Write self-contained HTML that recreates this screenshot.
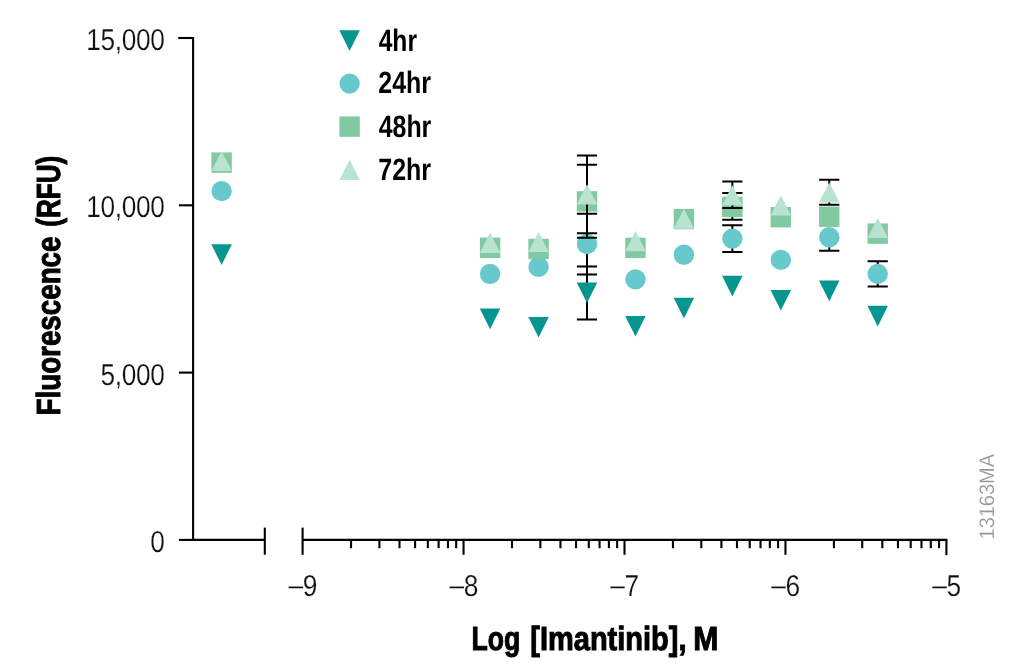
<!DOCTYPE html>
<html lang="en"><head><meta charset="utf-8"><title>Fluorescence vs Log [Imantinib]</title>
<style>html,body{margin:0;padding:0;background:#fff;overflow:hidden;}svg{display:block;}text{font-family:"Liberation Sans",sans-serif;text-rendering:geometricPrecision;white-space:pre;}.tk{font-size:30.2px;letter-spacing:-0.4px;fill:#111;stroke:#fff;stroke-width:0.2px;}.ttl{font-size:33.4px;font-weight:bold;fill:#000;stroke:#000;stroke-width:1px;stroke-linejoin:miter;stroke-miterlimit:3;}.lg{font-size:30.9px;font-weight:bold;fill:#000;}.id{font-size:21px;fill:#999;stroke:#fff;stroke-width:0.15px;}</style></head><body>
<svg width="1016" height="668" viewBox="0 0 1016 668">
<rect width="1016" height="668" fill="#fff"/>
<g stroke="#000" stroke-width="2.1" fill="none" stroke-linecap="butt">
<path d="M193.1 36.95V540.95"/>
<path d="M178.9 539.90H193.1"/>
<path d="M178.9 372.60H193.1"/>
<path d="M178.9 205.30H193.1"/>
<path d="M178.2 38.00H193.1"/>
<path d="M193.1 539.9H264.8"/>
<path d="M264.8 527.6V554.8"/>
<path d="M302.6 539.9H947.45"/>
<path d="M302.6 527.6V554.8"/>
<path d="M351.05 539.9V548.2"/>
<path d="M379.39 539.9V548.2"/>
<path d="M399.50 539.9V548.2"/>
<path d="M415.10 539.9V548.2"/>
<path d="M427.84 539.9V548.2"/>
<path d="M438.62 539.9V548.2"/>
<path d="M447.95 539.9V548.2"/>
<path d="M456.19 539.9V548.2"/>
<path d="M463.55 539.9V554.8"/>
<path d="M512.00 539.9V548.2"/>
<path d="M540.34 539.9V548.2"/>
<path d="M560.45 539.9V548.2"/>
<path d="M576.05 539.9V548.2"/>
<path d="M588.79 539.9V548.2"/>
<path d="M599.57 539.9V548.2"/>
<path d="M608.90 539.9V548.2"/>
<path d="M617.14 539.9V548.2"/>
<path d="M624.50 539.9V554.8"/>
<path d="M672.95 539.9V548.2"/>
<path d="M701.29 539.9V548.2"/>
<path d="M721.40 539.9V548.2"/>
<path d="M737.00 539.9V548.2"/>
<path d="M749.74 539.9V548.2"/>
<path d="M760.52 539.9V548.2"/>
<path d="M769.85 539.9V548.2"/>
<path d="M778.09 539.9V548.2"/>
<path d="M785.45 539.9V554.8"/>
<path d="M833.90 539.9V548.2"/>
<path d="M862.24 539.9V548.2"/>
<path d="M882.35 539.9V548.2"/>
<path d="M897.95 539.9V548.2"/>
<path d="M910.69 539.9V548.2"/>
<path d="M921.47 539.9V548.2"/>
<path d="M930.80 539.9V548.2"/>
<path d="M939.04 539.9V548.2"/>
<path d="M946.40 539.9V555.2"/>
</g>
<text class="tk" text-anchor="end" transform="translate(164.5 552.20) scale(0.87 1)">0</text>
<text class="tk" text-anchor="end" transform="translate(164.5 384.90) scale(0.87 1)">5,000</text>
<text class="tk" text-anchor="end" transform="translate(164.5 217.10) scale(0.87 1)">10,000</text>
<text class="tk" text-anchor="end" transform="translate(164.5 49.80) scale(0.87 1)">15,000</text>
<text class="tk" text-anchor="middle" transform="translate(302.70 595.7) scale(0.87 1)"><tspan dy="-1.1">–</tspan><tspan dy="1.1">9</tspan></text>
<text class="tk" text-anchor="middle" transform="translate(463.65 595.7) scale(0.87 1)"><tspan dy="-1.1">–</tspan><tspan dy="1.1">8</tspan></text>
<text class="tk" text-anchor="middle" transform="translate(624.60 595.7) scale(0.87 1)"><tspan dy="-1.1">–</tspan><tspan dy="1.1">7</tspan></text>
<text class="tk" text-anchor="middle" transform="translate(785.55 595.7) scale(0.87 1)"><tspan dy="-1.1">–</tspan><tspan dy="1.1">6</tspan></text>
<text class="tk" text-anchor="middle" transform="translate(946.50 595.7) scale(0.87 1)"><tspan dy="-1.1">–</tspan><tspan dy="1.1">5</tspan></text>
<g>
<text class="ttl" transform="translate(471.61 649.8) scale(0.7965 1)">Log </text>
<text class="ttl" transform="translate(530.31 649.8) scale(0.8678 1)">[Imantinib], </text>
<text class="ttl" transform="translate(693.32 649.8) scale(0.9026 1)">M</text>
</g>
<g>
<text class="ttl" transform="translate(59.5 415.45) rotate(-90) scale(0.8310 1)">Fluorescence </text>
<text class="ttl" transform="translate(59.5 226.78) rotate(-90) scale(0.7819 1)">(RFU)</text>
</g>
<text class="id" transform="translate(993.7 539.44) rotate(-90) scale(0.9500 1)">13163MA</text>
<g>
<path stroke="#000" stroke-width="2.0" fill="none" d="M587.00 266.60V319.60M576.90 319.60H597.10M576.90 266.60H597.10"/>
<path fill="#07958f" d="M211.35 244.30H231.85L221.60 265.00Z"/>
<path fill="#07958f" d="M479.84 308.60H500.34L490.09 329.30Z"/>
<path fill="#07958f" d="M528.29 316.90H548.79L538.54 337.60Z"/>
<path fill="#07958f" d="M576.75 282.40H597.25L587.00 303.10Z"/>
<path fill="#07958f" d="M625.20 315.90H645.70L635.45 336.60Z"/>
<path fill="#07958f" d="M673.65 297.70H694.15L683.90 318.40Z"/>
<path fill="#07958f" d="M722.10 275.70H742.60L732.35 296.40Z"/>
<path fill="#07958f" d="M770.55 289.90H791.05L780.80 310.60Z"/>
<path fill="#07958f" d="M819.00 280.60H839.50L829.25 301.30Z"/>
<path fill="#07958f" d="M867.45 305.80H887.95L877.70 326.50Z"/>
</g>
<g>
<path stroke="#000" stroke-width="2.0" fill="none" d="M587.00 213.70V274.40M576.90 274.40H597.10M576.90 213.70H597.10"/>
<path stroke="#000" stroke-width="2.0" fill="none" d="M732.35 225.20V252.10M722.25 252.10H742.45M722.25 225.20H742.45"/>
<path stroke="#000" stroke-width="2.0" fill="none" d="M829.25 237.30V250.80M819.15 250.80H839.35"/>
<path stroke="#000" stroke-width="2.0" fill="none" d="M877.70 261.30V286.50M867.60 286.50H887.80M867.60 261.30H887.80"/>
<circle fill="#67c9cc" cx="221.60" cy="191.10" r="10.2"/>
<circle fill="#67c9cc" cx="490.09" cy="274.00" r="10.2"/>
<circle fill="#67c9cc" cx="538.54" cy="266.90" r="10.2"/>
<circle fill="#67c9cc" cx="587.00" cy="244.00" r="10.2"/>
<circle fill="#67c9cc" cx="635.45" cy="279.40" r="10.2"/>
<circle fill="#67c9cc" cx="683.90" cy="254.80" r="10.2"/>
<circle fill="#67c9cc" cx="732.35" cy="238.60" r="10.2"/>
<circle fill="#67c9cc" cx="780.80" cy="259.90" r="10.2"/>
<circle fill="#67c9cc" cx="829.25" cy="237.30" r="10.2"/>
<circle fill="#67c9cc" cx="877.70" cy="273.90" r="10.2"/>
</g>
<g>
<path stroke="#000" stroke-width="2.0" fill="none" d="M587.00 164.80V237.70M576.90 237.70H597.10M576.90 164.80H597.10"/>
<path stroke="#000" stroke-width="2.0" fill="none" d="M732.35 192.90V219.80M722.25 219.80H742.45M722.25 192.90H742.45"/>
<rect fill="#80c9a1" x="211.40" y="152.40" width="20.4" height="20.4"/>
<rect fill="#80c9a1" x="479.89" y="237.60" width="20.4" height="20.4"/>
<rect fill="#80c9a1" x="528.34" y="238.80" width="20.4" height="20.4"/>
<rect fill="#80c9a1" x="576.80" y="191.20" width="20.4" height="20.4"/>
<rect fill="#80c9a1" x="625.25" y="237.70" width="20.4" height="20.4"/>
<rect fill="#80c9a1" x="673.70" y="208.90" width="20.4" height="20.4"/>
<rect fill="#80c9a1" x="722.15" y="196.70" width="20.4" height="20.4"/>
<rect fill="#80c9a1" x="770.60" y="207.00" width="20.4" height="20.4"/>
<rect fill="#80c9a1" x="819.05" y="206.50" width="20.4" height="20.4"/>
<rect fill="#80c9a1" x="867.50" y="223.40" width="20.4" height="20.4"/>
</g>
<g>
<path stroke="#000" stroke-width="2.0" fill="none" d="M587.00 155.50V233.30M576.90 233.30H597.10M576.90 155.50H597.10"/>
<path stroke="#000" stroke-width="2.0" fill="none" d="M732.35 181.40V208.10M722.25 208.10H742.45M722.25 181.40H742.45"/>
<path stroke="#000" stroke-width="2.0" fill="none" d="M829.25 179.70V204.70M819.15 204.70H839.35M819.15 179.70H839.35"/>
<path fill="#b7e3d0" d="M211.35 171.10H231.85L221.60 150.90Z"/>
<path fill="#b7e3d0" d="M479.84 252.90H500.34L490.09 232.70Z"/>
<path fill="#b7e3d0" d="M528.29 252.00H548.79L538.54 231.80Z"/>
<path fill="#b7e3d0" d="M576.75 204.40H597.25L587.00 184.20Z"/>
<path fill="#b7e3d0" d="M625.20 251.20H645.70L635.45 231.00Z"/>
<path fill="#b7e3d0" d="M673.65 228.80H694.15L683.90 208.60Z"/>
<path fill="#b7e3d0" d="M722.10 205.50H742.60L732.35 185.30Z"/>
<path fill="#b7e3d0" d="M770.55 215.60H791.05L780.80 195.40Z"/>
<path fill="#b7e3d0" d="M819.00 202.60H839.50L829.25 182.40Z"/>
<path fill="#b7e3d0" d="M867.45 238.10H887.95L877.70 217.90Z"/>
</g>
<path fill="#07958f" d="M339.35 30.25H359.85L349.60 50.95Z"/>
<circle fill="#67c9cc" cx="349.60" cy="83.60" r="10.2"/>
<rect fill="#80c9a1" x="339.40" y="116.40" width="20.4" height="20.4"/>
<path fill="#b7e3d0" d="M339.35 179.90H359.85L349.60 159.70Z"/>
<text class="lg" transform="translate(378.70 50.6) scale(0.7958 1)">4hr</text>
<text class="lg" transform="translate(378.29 93.4) scale(0.8094 1)">24hr</text>
<text class="lg" transform="translate(378.70 136.5) scale(0.8062 1)">48hr</text>
<text class="lg" transform="translate(378.29 179.7) scale(0.8094 1)">72hr</text>
</svg></body></html>
